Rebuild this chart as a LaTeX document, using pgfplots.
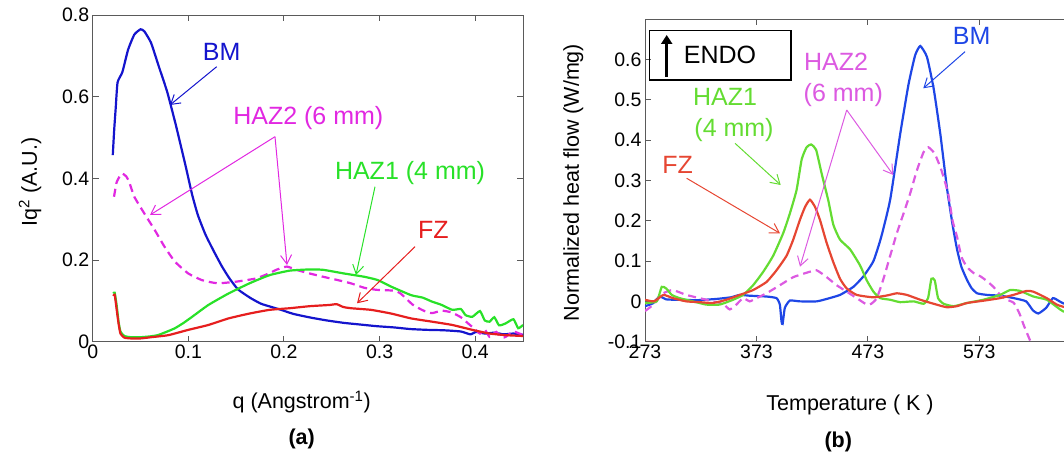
\documentclass[border=0pt]{standalone}
\usepackage{fontspec}
\setmainfont{Liberation Sans}
\usepackage{pgfplots}
\pgfplotsset{compat=1.18}
\usetikzlibrary{arrows.meta}
\definecolor{bmA}{RGB}{20,20,205}
\definecolor{hzA}{RGB}{225,40,225}
\definecolor{hoA}{RGB}{40,225,40}
\definecolor{fzA}{RGB}{230,30,30}
\definecolor{bmB}{RGB}{30,70,230}
\definecolor{hzB}{RGB}{220,90,225}
\definecolor{hoB}{RGB}{100,220,50}
\definecolor{fzB}{RGB}{230,70,50}
\definecolor{frame}{RGB}{90,90,90}
\newcommand{\tickfont}{\fontsize{19.5}{22}\selectfont}
\newcommand{\labfont}{\fontsize{21.5}{25}\selectfont}
\newcommand{\annfont}{\fontsize{25}{29}\selectfont}
\pgfplotsset{
  common/.style={
    scale only axis, anchor=south west,
    tick align=inside, major tick length=6pt,
    axis line style={line width=1pt, frame},
    every tick/.style={line width=0.9pt, frame},
    ticklabel style={font=\tickfont},
    /pgf/number format/assume math mode=true,
    scaled ticks=false, clip=true,
  },
  crv/.style={line width=2.2pt, smooth, tension=0.3},
}
\begin{document}
\begin{tikzpicture}
\useasboundingbox (0,0) rectangle (1064pt,-457pt);
% ---------- panel (a)
\begin{axis}[common, at={(92.7pt,-341.7pt)}, width=430.3pt, height=326.7pt,
  xmin=0, xmax=0.45, ymin=0, ymax=0.8,
  xtick={0,0.1,0.2,0.3,0.4}, ytick={0,0.2,0.4,0.6,0.8},
  xticklabels={0,0.1,0.2,0.3,0.4}, yticklabels={0,0.2,0.4,0.6,0.8}]
\addplot[bmA, crv] coordinates {
(0.021,0.457)(0.0225,0.52)(0.024,0.57)(0.026,0.635)(0.031,0.66)(0.037,0.715)
(0.0435,0.752)(0.050,0.765)(0.054,0.760)(0.061,0.732)(0.069,0.675)(0.078,0.611)
(0.087,0.530)(0.097,0.432)(0.104,0.36)(0.110,0.31)(0.118,0.262)(0.127,0.22)
(0.135,0.185)(0.143,0.155)(0.152,0.128)(0.165,0.107)(0.176,0.093)(0.187,0.085)
(0.197,0.078)(0.21,0.068)(0.228,0.059)(0.245,0.052)(0.263,0.046)(0.28,0.042)
(0.297,0.038)(0.315,0.035)(0.332,0.031)(0.35,0.029)(0.367,0.028)(0.385,0.025)
(0.395,0.018)(0.401,0.024)(0.41,0.02)(0.42,0.022)(0.43,0.018)(0.44,0.02)(0.45,0.017)};
\addplot[hzA, crv, dash pattern=on 8pt off 5pt] coordinates {
(0.0223,0.355)(0.025,0.39)(0.029,0.408)(0.031,0.412)(0.035,0.405)(0.038,0.392)
(0.0435,0.355)(0.054,0.314)(0.065,0.273)(0.075,0.233)(0.086,0.196)(0.100,0.167)
(0.114,0.151)(0.125,0.145)(0.132,0.143)(0.150,0.147)(0.171,0.155)(0.185,0.168)
(0.192,0.176)(0.203,0.184)(0.213,0.176)(0.227,0.167)(0.241,0.159)(0.256,0.151)
(0.270,0.143)(0.284,0.132)(0.297,0.127)(0.315,0.125)(0.322,0.118)(0.335,0.09)
(0.347,0.075)(0.355,0.07)(0.365,0.076)(0.375,0.072)(0.385,0.06)(0.39,0.05)
(0.40,0.03)(0.405,0.02)(0.41,0.03)(0.415,0.012)(0.422,0.024)(0.428,0.01)
(0.432,0.012)(0.44,0.025)(0.45,0.016)};
\addplot[hoA, crv] coordinates {
(0.0216,0.118)(0.023,0.12)(0.025,0.09)(0.027,0.05)(0.029,0.025)(0.033,0.014)
(0.040,0.011)(0.050,0.011)(0.060,0.013)(0.068,0.016)(0.077,0.024)(0.086,0.033)
(0.095,0.046)(0.104,0.061)(0.121,0.09)(0.142,0.118)(0.164,0.143)(0.185,0.163)
(0.206,0.174)(0.227,0.177)(0.241,0.176)(0.263,0.167)(0.284,0.159)(0.298,0.151)
(0.312,0.135)(0.333,0.114)(0.345,0.108)(0.355,0.098)(0.365,0.09)(0.376,0.078)
(0.385,0.08)(0.39,0.065)(0.397,0.061)(0.405,0.075)(0.41,0.052)(0.415,0.049)
(0.42,0.06)(0.425,0.04)(0.432,0.045)(0.44,0.055)(0.445,0.033)(0.45,0.041)};
\addplot[fzA, crv] coordinates {
(0.0216,0.112)(0.023,0.115)(0.025,0.08)(0.027,0.045)(0.029,0.02)(0.033,0.01)
(0.04,0.008)(0.05,0.008)(0.061,0.011)(0.079,0.016)(0.1,0.029)(0.121,0.041)
(0.142,0.057)(0.164,0.069)(0.185,0.078)(0.206,0.082)(0.227,0.087)(0.248,0.09)
(0.255,0.092)(0.262,0.085)(0.27,0.082)(0.291,0.078)(0.312,0.069)(0.333,0.057)
(0.355,0.049)(0.376,0.041)(0.397,0.029)(0.415,0.02)(0.432,0.016)(0.45,0.014)};
\end{axis}
% ---------- panel (b)
\begin{axis}[common, at={(645pt,-341.7pt)}, width=419pt, height=322.7pt,
  xmin=273, xmax=649, ymin=-0.1, ymax=0.7,
  axis y line*=left,
  xtick={273,373,473,573}, ytick={-0.1,0,0.1,0.2,0.3,0.4,0.5,0.6},
  xticklabels={273,373,473,573}, yticklabels={-0.1,0,0.1,0.2,0.3,0.4,0.5,0.6}]
\addplot[bmB, crv] coordinates {
(273,-0.012)(280,-0.005)(286,0.012)(292,0.005)(300,0.004)(320,0.003)(337,0.006)
(350,0.01)(358,0.016)(367,0.014)(382,0.012)(391,0.008)(394,-0.008)(395.5,-0.05)
(396.5,-0.056)(398.5,-0.016)(403,0.002)(412,0.0)(427,0.0)(436,0.006)(448,0.016)
(460,0.036)(469,0.062)(478,0.1)(485,0.16)(493,0.252)(502,0.415)(509.4,0.537)
(515.4,0.61)(520,0.633)(526,0.606)(532,0.528)(538,0.415)(544,0.28)(549,0.19)
(553,0.129)(557,0.085)(562,0.053)(566,0.033)(571,0.02)(580,0.016)(592,0.014)
(604,0.008)(615,0.0)(621,-0.022)(626,-0.03)(633,-0.016)(639,0.008)(645,0.0)(649,-0.006)};
\addplot[hzB, crv, dash pattern=on 8pt off 5pt] coordinates {
(273,-0.024)(280.5,-0.008)(289.5,0.02)(298,0.028)(310,0.016)(322,0.008)(334,0)
(343,-0.006)(349,-0.02)(355,-0.008)(361,0.008)(367,0)(373,0.008)(382,0.02)
(394,0.04)(406,0.06)(418,0.071)(427,0.077)(436,0.06)(445,0.04)(454,0.024)
(463,0.008)(472,-0.008)(476,-0.006)(481,0.008)(487,0.056)(493,0.113)(499,0.169)
(505,0.218)(511,0.268)(517,0.325)(523,0.37)(527.3,0.382)(533,0.366)(539,0.325)
(545,0.268)(549,0.2)(553,0.16)(557,0.11)(562,0.085)(568,0.07)(574,0.062)
(580,0.05)(586,0.035)(592,0.015)(598,0.004)(604,-0.004)(609,-0.03)(613,-0.06)(619,-0.1)(622,-0.12)};
\addplot[hoB, crv] coordinates {
(273,-0.004)(283.5,0)(288,0.036)(292,0.032)(297,0.016)(304,0.008)(316,0)
(328,-0.008)(340,-0.008)(352,0.004)(361,0.016)(370,0.04)(379,0.073)(388,0.113)
(397,0.169)(403,0.218)(409,0.276)(413.6,0.352)(418,0.382)(422,0.389)(426.5,0.376)
(431.5,0.317)(437.5,0.25)(442,0.19)(448,0.153)(457,0.129)(466,0.089)(472,0.052)
(478,0.024)(484,0.008)(493,0.004)(502,-0.002)(514,0)(523,-0.006)(527,0.008)
(530,0.056)(533,0.052)(536,0.008)(541,-0.006)(550,-0.012)(562,-0.004)(576.6,0.004)
(591.6,0.016)(600.5,0.028)(609.5,0.026)(621.5,0.012)(633.5,0.004)(645.5,-0.02)(649,-0.026)};
\addplot[fzB, crv] coordinates {
(273,0.004)(281,0)(289.5,0.016)(298,0.008)(310,0)(322,-0.002)(334,-0.004)
(346,0.004)(358,0.016)(370,0.028)(382,0.048)(391,0.077)(400,0.113)(406,0.153)
(412,0.202)(416.6,0.234)(421,0.252)(425.6,0.234)(430,0.202)(436,0.145)(442,0.097)
(448,0.056)(454,0.032)(463,0.016)(478,0.01)(490,0.0145)(499,0.02)(508,0.016)
(520,0.004)(532,-0.006)(543.7,-0.0145)(552.7,-0.012)(562,-0.004)(576.6,0.0016)
(591.6,0.008)(603.5,0.016)(615.5,0.026)(621.5,0.024)(633.5,0.008)(642.5,-0.008)(649,-0.014)};
\end{axis}
% ---------- axis labels
\node[rotate=90, font=\labfont] at (30pt,-182pt) {Iq\textsuperscript{2} (A.U.)};
\node[font=\labfont] at (301.7pt,-402pt) {q (Angstrom\textsuperscript{-1})};
\node[font=\labfont\bfseries] at (301.7pt,-438.5pt) {(a)};
\node[rotate=90, font=\labfont] at (573.3pt,-182.5pt) {Normalized heat flow (W/mg)};
\node[font=\labfont] at (850pt,-405pt) {Temperature ( K )};
\node[font=\labfont\bfseries] at (838.3pt,-441.5pt) {(b)};
% ---------- annotations (a)
\tikzset{ann/.style={line width=1pt, -{Straight Barb[length=9pt,width=11pt]}}}
\node[font=\annfont, text=bmA] at (221.7pt,-51.7pt) {BM};
\draw[ann, bmA] (216.7pt,-66.7pt) -- (170pt,-105pt);
\node[font=\annfont, text=hzA] at (308.3pt,-118.3pt) {HAZ2 (6 mm)};
\draw[ann, hzA] (275pt,-136.7pt) -- (150pt,-215pt);
\draw[ann, hzA] (275pt,-136.7pt) -- (287pt,-265pt);
\node[font=\annfont, text=hoA] at (410pt,-173.3pt) {HAZ1 (4 mm)};
\draw[ann, hoA] (375pt,-186.7pt) -- (356pt,-275pt);
\node[font=\annfont, text=fzA] at (433.3pt,-230pt) {FZ};
\draw[ann, fzA] (415pt,-246.7pt) -- (357pt,-303.3pt);
% ---------- annotations (b)
\draw[line width=1.3pt, black] (649.3pt,-30.7pt) rectangle (791pt,-80pt);
\draw[line width=3pt, -{Triangle[length=9pt,width=11pt]}] (666.7pt,-77pt) -- (666.7pt,-35pt);
\node[font=\annfont] at (720pt,-55pt) {ENDO};
\node[font=\annfont, text=bmB] at (971.7pt,-36pt) {BM};
\draw[ann, bmB] (965pt,-51.7pt) -- (923.3pt,-88.3pt);
\node[font=\annfont, text=hzB] at (836pt,-61.7pt) {HAZ2};
\node[font=\annfont, text=hzB] at (843.3pt,-95pt) {(6 mm)};
\draw[ann, hzB] (846.7pt,-110pt) -- (800pt,-266.7pt);
\draw[ann, hzB] (846.7pt,-110pt) -- (893.3pt,-175pt);
\node[font=\annfont, text=hoB] at (725pt,-96.7pt) {HAZ1};
\node[font=\annfont, text=hoB] at (734pt,-130pt) {(4 mm)};
\draw[ann, hoB] (735pt,-143.3pt) -- (780.7pt,-185pt);
\node[font=\annfont, text=fzB] at (677.7pt,-165pt) {FZ};
\draw[ann, fzB] (686.7pt,-178.3pt) -- (780pt,-233.3pt);
\end{tikzpicture}
\end{document}
